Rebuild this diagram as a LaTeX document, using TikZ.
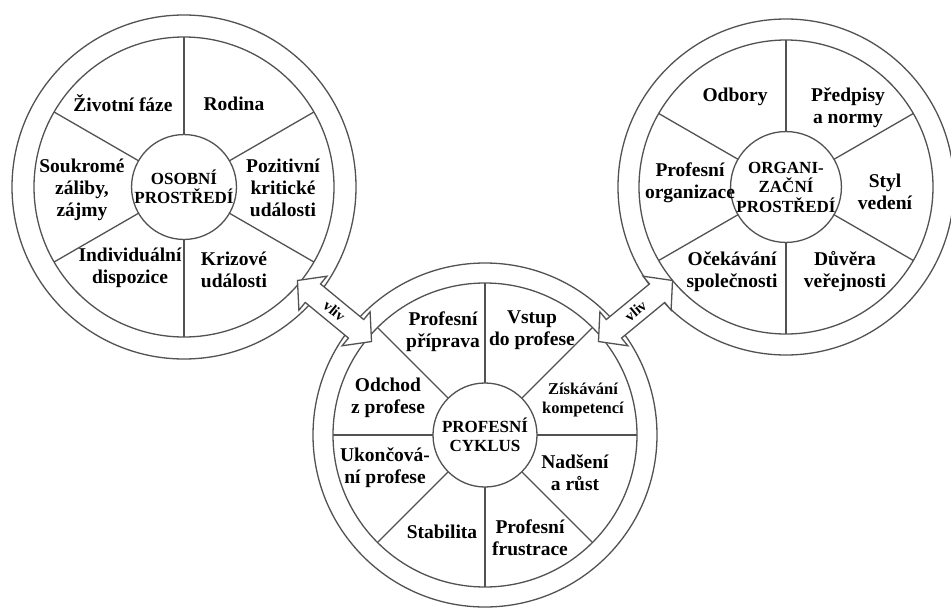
\documentclass[tikz,border=0pt]{standalone}
\usepackage{fontspec}
\setmainfont{Liberation Serif}
\usetikzlibrary{calc}
\begin{document}
\begin{tikzpicture}[x=1pt,y=-1pt,
  ln/.style={draw=black!68, line width=1.3pt},
  ring/.style={circle, ln, fill=white, inner sep=0pt, outer sep=0pt},
  lbl/.style={align=center, font=\fontsize{19.5}{22}\selectfont\bfseries, inner sep=0pt, text=black},
  slbl/.style={align=center, font=\fontsize{16.5}{19}\selectfont\bfseries, inner sep=0pt, text=black},
  ctr/.style={ring, align=center, font=\fontsize{17}{19.5}\selectfont\bfseries, text=black},
  blockarrow/.style={ln, fill=white, line join=miter},
  vlbl/.style={font=\fontsize{15}{17}\selectfont\bfseries, inner sep=0pt, transform shape}
]
\path[use as bounding box, fill=white] (0,0) rectangle (951,608);

% ---------- outer rings ----------
\node[ring, minimum size=344pt] (Lo) at (184,187) {};
\node[ring, minimum size=300pt] (Lr) at (184,187) {};
\node[ring, minimum size=344pt] (Bo) at (485,435) {};
\node[ring, minimum size=304pt] (Br) at (485,435) {};
\node[ring, minimum size=336pt] (Ro) at (786,187) {};
\node[ring, minimum size=294pt] (Rr) at (786,187) {};

% ---------- centre circles ----------
\node[ctr, minimum size=104pt] (Lc) at (184,187) {OSOBNÍ\\PROSTŘEDÍ};
\node[ctr, minimum size=104pt] (Bc) at (485,435) {PROFESNÍ\\CYKLUS};
\node[ctr, minimum size=100pt] (Rc) at (786,187) {ORGANI-\\ZAČNÍ\\PROSTŘEDÍ};

% ---------- spokes ----------
\foreach \a in {30,90,150,210,270,330} {
  \draw[ln] (Lc.\a) -- (Lr.\a);
  \draw[ln] (Rc.\a) -- (Rr.\a);
}
\foreach \a in {0,45,...,315} {
  \draw[ln] (Bc.\a) -- (Br.\a);
}

% ---------- block arrows "vliv" ----------
\begin{scope}[shift={($(Lo.center)!0.5!(Bo.center)$)}, rotate=-39.5]
  \draw[blockarrow] (-48,0) -- (-28,-22) -- (-28,-12) -- (28,-12) -- (28,-22) -- (48,0)
     -- (28,22) -- (28,12) -- (-28,12) -- (-28,22) -- cycle;
  \node[vlbl] (v1) at (0,0) {vliv};
\end{scope}
\begin{scope}[shift={($(Bo.center)!0.5!(Ro.center)$)}, rotate=39.5]
  \draw[blockarrow] (-48,0) -- (-28,-22) -- (-28,-12) -- (28,-12) -- (28,-22) -- (48,0)
     -- (28,22) -- (28,12) -- (-28,12) -- (-28,22) -- cycle;
  \node[vlbl] (v2) at (0,0) {vliv};
\end{scope}

% ---------- left circle labels ----------
\node[lbl] (l1) at (123,103) {Životní fáze};
\node[lbl] (l2) at (234,104) {Rodina};
\node[lbl] (l3) at (82,190) {Soukromé\\záliby,\\zájmy};
\node[lbl] (l4) at (283,188) {Pozitivní\\kritické\\události};
\node[lbl] (l5) at (130,268) {Individuální\\dispozice};
\node[lbl] (l6) at (234,270) {Krizové\\události};

% ---------- right circle labels ----------
\node[lbl] (r1) at (735,97) {Odbory};
\node[lbl] (r2) at (848,108) {Předpisy\\a normy};
\node[lbl] (r3) at (690,183) {Profesní\\organizace};
\node[lbl] (r4) at (885,192) {Styl\\vedení};
\node[lbl] (r5) at (732,272) {Očekávání\\společnosti};
\node[lbl] (r6) at (845,272) {Důvěra\\veřejnosti};

% ---------- bottom circle labels ----------
\node[lbl] (b1) at (443,332) {Profesní\\příprava};
\node[lbl] (b2) at (532,330) {Vstup\\do profese};
\node[slbl] (b3) at (583,400) {Získávání\\kompetencí};
\node[lbl] (b4) at (575,473) {Nadšení\\a růst};
\node[lbl] (b5) at (530,538) {Profesní\\frustrace};
\node[lbl] (b6) at (442,532) {Stabilita};
\node[lbl] (b7) at (385,468) {Ukončová-\\ní profese};
\node[lbl] (b8) at (388,398) {Odchod\\z profese};
\end{tikzpicture}
\end{document}
